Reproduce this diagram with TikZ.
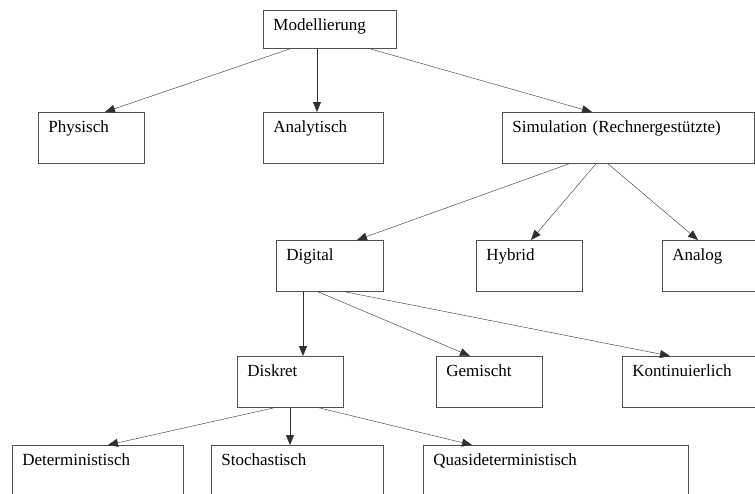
\documentclass[tikz,border=0pt]{standalone}
\usepackage{fontspec}
\setmainfont{Liberation Serif}
\usetikzlibrary{arrows.meta}
\definecolor{frame}{HTML}{505050}
\definecolor{link}{HTML}{303030}
\tikzset{box/.style={draw=frame,line width=0.8pt,rectangle,anchor=north west,align=left,inner xsep=10pt,inner ysep=4pt,text height=16pt,text depth=27pt,font=\fontsize{17}{20}\selectfont}}
\tikzset{topbox/.style={box,text depth=14pt}}
\tikzset{>={Triangle[length=10pt,width=8pt]}}

\begin{document}
\begin{tikzpicture}[x=1pt,y=-1pt]
            \path[use as bounding box,clip] (0,0) rectangle (755,493);
            
            \node[topbox,text width=113pt] (model) at (263,10) {Modellierung};
            \node[box,text width=86pt] (phys) at (38,112) {Physisch};
            \node[box,text width=100pt] (analyt) at (263,112) {Analytisch};
            \node[box,text width=232pt] (sim) at (502,112) {Simulation (Rechnergestützte)};
            \node[box,text width=87pt] (digital) at (276,240) {Digital};
            \node[box,text width=86pt] (hybrid) at (476,240) {Hybrid};
            \node[box,text width=120pt] (analog) at (662,240) {Analog};
            \node[box,text width=86pt] (diskret) at (237,356) {Diskret};
            \node[box,text width=86pt] (gemischt) at (436,356) {Gemischt};
            \node[box,text width=180pt] (kont) at (622,356) {Kontinuierlich};
            \node[box,text width=151pt] (determ) at (12,445) {Deterministisch};
            \node[box,text width=152pt] (stoch) at (211,445) {Stochastisch};
            \node[box,text width=245pt] (quasi) at (423,445) {Quasideterministisch};
            \draw[->,link] ([xshift=27pt]model.south west) -- ([xshift=67pt]phys.north west);
            \draw[->,link] ([xshift=54pt]model.south west) -- ([xshift=54pt]analyt.north west);
            \draw[->,link] ([xshift=107pt]model.south west) -- ([xshift=90pt]sim.north west);
            \draw[->,link] ([xshift=67pt]sim.south west) -- ([xshift=81pt]digital.north west);
            \draw[->,link] ([xshift=94pt]sim.south west) -- ([xshift=55pt]hybrid.north west);
            \draw[->,link] ([xshift=106pt]sim.south west) -- ([xshift=36pt]analog.north west);
            \draw[->,link] ([xshift=27pt]digital.south west) -- ([xshift=66pt]diskret.north west);
            \draw[->,link] ([xshift=42pt]digital.south west) -- ([xshift=34pt]gemischt.north west);
            \draw[->,link] ([xshift=69pt]digital.south west) -- ([xshift=48pt]kont.north west);
            \draw[->,link] ([xshift=37pt]diskret.south west) -- ([xshift=96pt]determ.north west);
            \draw[->,link] ([xshift=53pt]diskret.south west) -- ([xshift=79pt]stoch.north west);
            \draw[->,link] ([xshift=82pt]diskret.south west) -- ([xshift=49pt]quasi.north west);
            \end{tikzpicture}
\end{document}
